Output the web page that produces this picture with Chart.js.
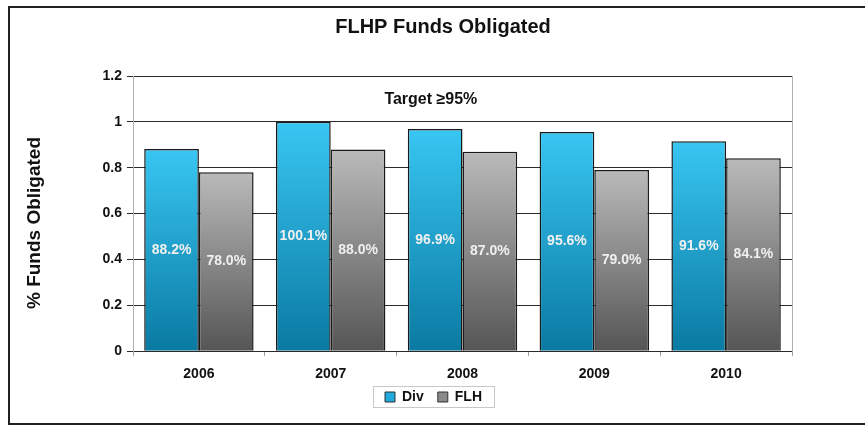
<!DOCTYPE html>
<html>
<head>
<meta charset="utf-8">
<script src="https://cdn.jsdelivr.net/npm/chart.js@4.4.1/dist/chart.umd.min.js"></script>
<style>
  html, body { margin: 0; padding: 0; background: #ffffff; }
  #wrap { width: 865px; height: 427px; position: relative; }
</style>
</head>
<body>
<div id="wrap"><canvas id="c" width="865" height="427"></canvas></div>
<script>
const categories = ['2006', '2007', '2008', '2009', '2010'];
const divValues = [0.882, 1.001, 0.969, 0.956, 0.916];
const flhValues = [0.780, 0.880, 0.870, 0.790, 0.841];
const yTicks = [0, 0.2, 0.4, 0.6, 0.8, 1, 1.2];
const seriesNames = ['Div', 'FLH'];
const chartTitle = 'FLHP Funds Obligated';
const yTitle = '% Funds Obligated';
const targetText = 'Target \u226595%';

const FONT = "'Liberation Sans', Arial, sans-serif";
const LEGEND_PAD = 14;
const LEGEND_H = 30;

function barGradient(topColor, bottomColor, legendColor) {
  return (c) => {
    const ch = c.chart;
    if (!ch.chartArea || !c.parsed || c.type !== 'data') return legendColor;
    const ys = ch.scales.y;
    const y0 = ys.getPixelForValue(c.parsed.y);
    const y1 = ys.getPixelForValue(0);
    const g = ch.ctx.createLinearGradient(0, y0, 0, y1);
    g.addColorStop(0, topColor);
    g.addColorStop(1, bottomColor);
    return g;
  };
}

const framePlugin = {
  id: 'frame',
  beforeLayout(chart) {
    const lg = chart.legend;
    if (lg && !lg._fixedFit) {
      const f = lg.fit;
      lg.fit = function () { f.call(this); this.height = LEGEND_H; };
      lg._fixedFit = true;
    }
  },
  afterLayout(chart) {
    const t = chart.titleBlock;
    if (t) {
      const dx = 443 - (t.left + t.right) / 2;
      t.left += dx; t.right += dx;
    }
    const lg = chart.legend;
    if (lg) {
      const dx = 433.5 - (lg.left + lg.right) / 2;
      lg.left += dx; lg.right += dx;
      const top = 397 - LEGEND_PAD - 7;
      lg.top = top; lg.bottom = top + lg.height;
    }
  },
  beforeDraw(chart) {
    const ctx = chart.ctx;
    ctx.save();
    ctx.fillStyle = '#ffffff';
    ctx.fillRect(0, 0, chart.width, chart.height);
    ctx.strokeStyle = '#231f20';
    ctx.lineWidth = 2;
    ctx.beginPath();
    ctx.moveTo(chart.width + 2, 7);
    ctx.lineTo(9, 7);
    ctx.lineTo(9, 424);
    ctx.lineTo(chart.width + 2, 424);
    ctx.stroke();
    ctx.translate(35, 223);
    ctx.rotate(-Math.PI / 2);
    ctx.fillStyle = '#111111';
    ctx.font = 'bold 19px ' + FONT;
    ctx.textAlign = 'center';
    ctx.textBaseline = 'middle';
    ctx.fillText(yTitle, 0, 0);
    ctx.restore();
  },
  afterDraw(chart) {
    const ctx = chart.ctx;
    const a = chart.chartArea;
    ctx.save();
    ctx.strokeStyle = '#b0b0b0';
    ctx.lineWidth = 1;
    ctx.beginPath();
    ctx.moveTo(Math.round(a.right) + 0.5, a.top);
    ctx.lineTo(Math.round(a.right) + 0.5, a.bottom);
    ctx.stroke();
    const lg = chart.legend;
    if (lg && lg.legendHitBoxes && lg.legendHitBoxes.length) {
      let l = Infinity, r = -Infinity, t = Infinity, b = -Infinity;
      lg.legendHitBoxes.forEach(h => {
        l = Math.min(l, h.left); r = Math.max(r, h.left + h.width);
        t = Math.min(t, h.top); b = Math.max(b, h.top + h.height);
      });
      ctx.strokeStyle = '#c8c8c8';
      ctx.strokeRect(Math.round(l - 12) + 0.5, Math.round(t - 4) + 0.5, Math.round(r - l + 24), Math.round(b - t + 7));
    }
    ctx.restore();
  },
  afterDatasetsDraw(chart) {
    const ctx = chart.ctx;
    ctx.save();
    ctx.font = 'bold 14px ' + FONT;
    ctx.fillStyle = '#f0f0f0';
    ctx.textAlign = 'center';
    ctx.textBaseline = 'middle';
    chart.data.datasets.forEach((ds, di) => {
      const meta = chart.getDatasetMeta(di);
      meta.data.forEach((bar, i) => {
        const v = ds.data[i];
        ctx.fillText((v * 100).toFixed(1) + '%', bar.x, (bar.y + bar.base) / 2);
      });
    });
    const xs = chart.scales.x, ys = chart.scales.y;
    ctx.fillStyle = '#111111';
    ctx.font = 'bold 16px ' + FONT;
    ctx.fillText(targetText, xs.getPixelForValue(1.76), ys.getPixelForValue(1.096));
    ctx.restore();
  }
};

new Chart(document.getElementById('c'), {
  type: 'bar',
  data: {
    labels: categories,
    datasets: [
      {
        label: seriesNames[0],
        data: divValues,
        backgroundColor: barGradient('#38c6f2', '#0a7aa2', '#1fa9dc'),
        borderColor: '#1a1a1a',
        borderWidth: 1.5,
        borderSkipped: 'bottom',
        barPercentage: 1.0,
        categoryPercentage: 0.83
      },
      {
        label: seriesNames[1],
        data: flhValues,
        backgroundColor: barGradient('#bababa', '#555555', '#8a8a8a'),
        borderColor: '#1a1a1a',
        borderWidth: 1.5,
        borderSkipped: 'bottom',
        barPercentage: 1.0,
        categoryPercentage: 0.83
      }
    ]
  },
  options: {
    responsive: false,
    animation: false,
    devicePixelRatio: 1,
    layout: { padding: { left: 20, right: 73, top: 0, bottom: 4 } },
    plugins: {
      title: {
        display: true,
        text: chartTitle,
        color: '#111111',
        font: { family: FONT, size: 20, weight: 'bold' },
        padding: { top: 15, bottom: 37 }
      },
      legend: {
        position: 'bottom',
        labels: {
          color: '#111111',
          font: { family: FONT, size: 14, weight: 'bold' },
          boxWidth: 10,
          boxHeight: 10,
          padding: LEGEND_PAD,
          generateLabels(chart) {
            const cols = ['#1fa9dc', '#8a8a8a'];
            return chart.data.datasets.map((ds, i) => ({
              text: ds.label,
              fillStyle: cols[i],
              strokeStyle: '#333333',
              lineWidth: 1,
              datasetIndex: i,
              fontColor: '#111111'
            }));
          }
        }
      },
      tooltip: { enabled: false }
    },
    scales: {
      x: {
        grid: { display: true, drawOnChartArea: false, drawTicks: true, tickLength: 5, color: '#a0a0a0' },
        border: { display: false },
        ticks: { color: '#111111', font: { family: FONT, size: 14, weight: 'bold' }, padding: 10 }
      },
      y: {
        min: 0,
        max: 1.2,
        afterBuildTicks(scale) { scale.ticks = yTicks.map(v => ({ value: v })); },
        afterFit(scale) { scale.width = 113; },
        grid: { color: '#2a2a2a', lineWidth: 1, tickLength: 6, drawTicks: true },
        border: { display: true, color: '#b0b0b0' },
        ticks: {
          color: '#111111',
          font: { family: FONT, size: 14, weight: 'bold' },
          padding: 5,
          callback: (v) => String(Math.round(v * 10) / 10)
        },
        title: { display: false }
      }
    }
  },
  plugins: [framePlugin]
});
</script>
</body>
</html>
